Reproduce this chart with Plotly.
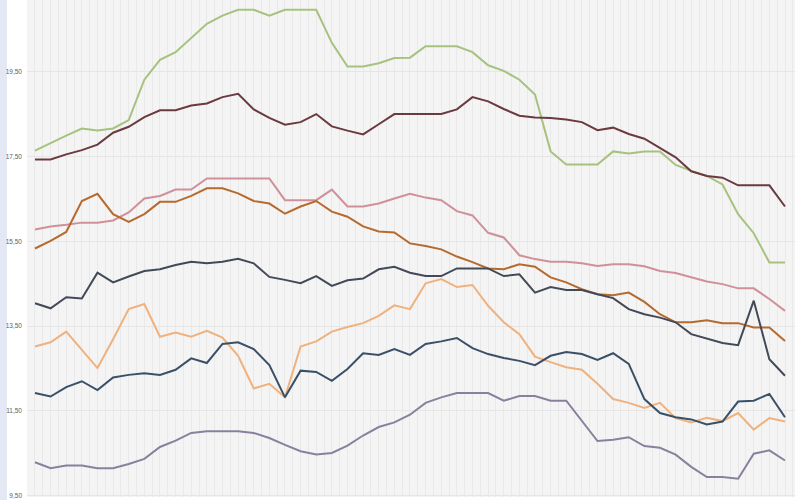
import plotly.graph_objects as go

# category index (no x labels shown in the reference)
periods = list(range(49))

green = [17.64, 17.82, 17.99, 18.16, 18.11, 18.16, 18.36, 19.31, 19.78, 19.96,
         20.30, 20.63, 20.82, 20.96, 20.96, 20.82, 20.96, 20.96, 20.96, 20.18,
         19.62, 19.62, 19.70, 19.82, 19.83, 20.10, 20.10, 20.10, 19.96, 19.65,
         19.52, 19.31, 18.96, 17.62, 17.31, 17.31, 17.31, 17.62, 17.57, 17.62,
         17.62, 17.30, 17.16, 17.04, 16.84, 16.14, 15.69, 15.00, 15.00]

maroon = [17.43, 17.43, 17.55, 17.65, 17.78, 18.06, 18.20, 18.43, 18.59, 18.59,
          18.70, 18.75, 18.90, 18.98, 18.61, 18.41, 18.25, 18.31, 18.50, 18.21,
          18.11, 18.02, 18.26, 18.50, 18.50, 18.50, 18.50, 18.61, 18.90, 18.80,
          18.62, 18.46, 18.42, 18.41, 18.37, 18.31, 18.12, 18.18, 18.03, 17.92,
          17.69, 17.48, 17.15, 17.04, 17.00, 16.82, 16.82, 16.82, 16.32]

pink = [15.78, 15.85, 15.89, 15.94, 15.94, 15.99, 16.18, 16.51, 16.57, 16.72,
        16.72, 16.98, 16.98, 16.98, 16.98, 16.98, 16.47, 16.47, 16.47, 16.72,
        16.32, 16.32, 16.39, 16.51, 16.62, 16.53, 16.47, 16.21, 16.11, 15.70,
        15.59, 15.17, 15.08, 15.02, 15.02, 14.98, 14.92, 14.96, 14.96, 14.91,
        14.80, 14.75, 14.65, 14.55, 14.49, 14.39, 14.39, 14.14, 13.86]

brown = [15.33, 15.51, 15.72, 16.45, 16.62, 16.14, 15.96, 16.14, 16.43, 16.43,
         16.57, 16.75, 16.75, 16.63, 16.45, 16.39, 16.15, 16.32, 16.45, 16.20,
         16.08, 15.85, 15.73, 15.71, 15.45, 15.39, 15.31, 15.14, 15.01, 14.86,
         14.84, 14.96, 14.90, 14.65, 14.53, 14.37, 14.25, 14.23, 14.29, 14.07,
         13.78, 13.59, 13.59, 13.64, 13.57, 13.57, 13.47, 13.47, 13.15]

slate = [14.04, 13.92, 14.18, 14.15, 14.76, 14.53, 14.67, 14.80, 14.84, 14.94,
         15.02, 14.98, 15.02, 15.09, 14.98, 14.66, 14.59, 14.51, 14.68, 14.45,
         14.58, 14.62, 14.84, 14.90, 14.76, 14.68, 14.68, 14.86, 14.86, 14.86,
         14.68, 14.72, 14.29, 14.42, 14.35, 14.35, 14.25, 14.16, 13.90, 13.78,
         13.70, 13.59, 13.31, 13.21, 13.10, 13.05, 14.10, 12.72, 12.33]

light_orange = [13.02, 13.12, 13.37, 12.94, 12.51, 13.19, 13.90, 14.02, 13.25, 13.35,
                13.25, 13.39, 13.23, 12.80, 12.03, 12.14, 11.82, 13.02, 13.14, 13.37,
                13.48, 13.57, 13.74, 13.99, 13.90, 14.51, 14.61, 14.42, 14.47, 13.98,
                13.59, 13.31, 12.78, 12.65, 12.53, 12.47, 12.14, 11.78, 11.69, 11.57,
                11.69, 11.33, 11.23, 11.34, 11.26, 11.45, 11.06, 11.33, 11.25]

bluegray = [11.92, 11.84, 12.06, 12.20, 11.99, 12.29, 12.35, 12.39, 12.35, 12.47,
            12.74, 12.63, 13.08, 13.12, 12.96, 12.58, 11.82, 12.45, 12.42, 12.21,
            12.49, 12.86, 12.82, 12.96, 12.82, 13.08, 13.14, 13.22, 12.98, 12.84,
            12.75, 12.68, 12.58, 12.80, 12.89, 12.84, 12.70, 12.86, 12.61, 11.78,
            11.45, 11.35, 11.30, 11.18, 11.25, 11.72, 11.74, 11.90, 11.35]

purple = [10.29, 10.15, 10.21, 10.21, 10.15, 10.15, 10.25, 10.37, 10.65, 10.80,
          10.98, 11.02, 11.02, 11.02, 10.98, 10.86, 10.70, 10.55, 10.47, 10.51,
          10.68, 10.92, 11.12, 11.23, 11.41, 11.69, 11.82, 11.92, 11.92, 11.92,
          11.74, 11.85, 11.85, 11.74, 11.74, 11.27, 10.79, 10.82, 10.88, 10.67,
          10.63, 10.47, 10.18, 9.94, 9.94, 9.90, 10.49, 10.57, 10.33]

tick_values = [9.5, 11.5, 13.5, 15.5, 17.5, 19.5]
tick_labels = ["9,50", "11,50", "13,50", "15,50", "17,50", "19,50"]

series = [
    (green, "#a6c27e"),
    (maroon, "#6b3a40"),
    (pink, "#d0909a"),
    (brown, "#b66a2e"),
    (slate, "#434a57"),
    (light_orange, "#efb27e"),
    (bluegray, "#3a5068"),
    (purple, "#8a809e"),
]

fig = go.Figure()
for vals, col in series:
    fig.add_trace(go.Scatter(x=periods, y=vals, mode="lines",
                             line=dict(color=col, width=2), showlegend=False,
                             hoverinfo="skip"))

fig.update_layout(
    width=800, height=500,
    margin=dict(l=27, r=5, t=0, b=3),
    paper_bgcolor="#ffffff",
    plot_bgcolor="#f4f4f4",
    font=dict(family="Liberation Sans, Arial, sans-serif", size=6.5, color="#5e5e5e"),
    xaxis=dict(range=[-0.51, 48.64], showticklabels=False, ticks="",
               tickmode="linear", tick0=-0.5, dtick=0.5,
               showgrid=True, gridcolor="#e9e9e9", gridwidth=1,
               zeroline=False, showline=False, automargin=False),
    yaxis=dict(range=[9.47, 21.19], tickmode="array", tickvals=tick_values,
               ticktext=tick_labels, showgrid=True, gridcolor="#e6e6e6",
               gridwidth=1, zeroline=False, showline=False, ticks="",
               ticklabelstandoff=4, automargin=False),
    shapes=[dict(type="rect", xref="paper", yref="paper",
                 x0=-27 / 768, x1=-20 / 768, y0=0 - 3 / 497, y1=1,
                 fillcolor="#e4e7f4", line=dict(width=0), layer="below")],
)

fig.write_html("out.html", config={"displayModeBar": False},
               post_script="document.body.style.margin='0px';")
